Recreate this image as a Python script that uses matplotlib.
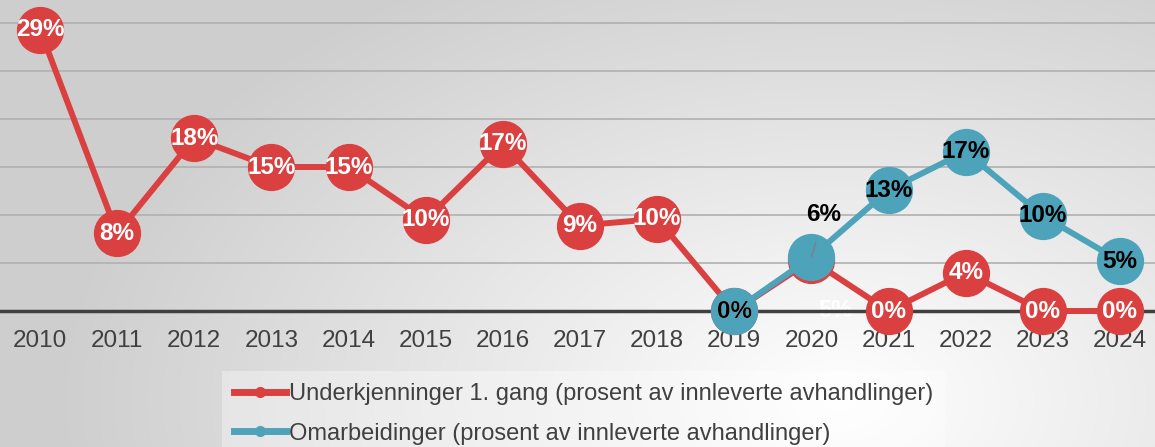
import numpy as np
import matplotlib.pyplot as plt
from matplotlib.lines import Line2D

# Data (percent of submitted theses)
years = ['2010', '2011', '2012', '2013', '2014', '2015', '2016', '2017',
         '2018', '2019', '2020', '2021', '2022', '2023', '2024']
underkjent = [29.3, 8.1, 18.0, 15.0, 15.0, 9.5, 17.4, 8.9, 9.6, 0.0, 5.3, 0.0, 4.0, 0.0, 0.0]
omarb_years = ['2019', '2020', '2021', '2022', '2023', '2024']
omarbeidet = [0.0, 5.6, 12.6, 16.6, 9.9, 5.2]

red = '#DA4040'
blue = '#4DA3BA'

plt.rcParams['font.family'] = ['Liberation Sans', 'DejaVu Sans']

W, H = 1155, 447
fig = plt.figure(figsize=(W / 100, H / 100), dpi=100)

# radial grey background
bg = fig.add_axes([0, 0, 1, 1], zorder=-10)
yy, xx = np.mgrid[0:H, 0:W]
r = np.sqrt((xx - 840) ** 2 + ((yy - 400) * 1.6) ** 2) / 780
shade = 1 - 0.19 * np.clip(r, 0, 1)
bg.imshow(np.dstack([shade] * 3), extent=[0, W, H, 0], aspect='auto')
bg.axis('off')

ax = fig.add_axes([0, (H - 311) / H, 1, 311 / H])
ax.set_facecolor('none')

x_all = np.arange(len(years))
x_om = np.array([years.index(y) for y in omarb_years])

ax.plot(x_all, underkjent, color=red, lw=4.3, marker='o', ms=33,
        mec=red, mfc=red, zorder=3, solid_joinstyle='round')
ax.plot(x_om, omarbeidet, color=blue, lw=4.3, marker='o', ms=33,
        mec=blue, mfc=blue, zorder=4, solid_joinstyle='round')

for xi, v in zip(x_all, underkjent):
    if years[xi] == '2020':
        ax.annotate(f'{round(v)}%', (xi, v), xytext=(17, -36), textcoords='offset points',
                    ha='center', va='center', color='white', fontsize=17,
                    fontweight='bold', zorder=2)
        continue
    ax.text(xi, v, f'{round(v)}%', ha='center', va='center', color='white',
            fontsize=17.5, fontweight='bold', zorder=5)

for xi, yr, v in zip(x_om, omarb_years, omarbeidet):
    if yr == '2020':
        ax.annotate(f'{round(v)}%', (xi, v), xytext=(9, 31), textcoords='offset points',
                    ha='center', va='center', color='black', fontsize=17.5,
                    fontweight='bold', zorder=6,
                    arrowprops=dict(arrowstyle='-', color='#808080', lw=1,
                                    shrinkA=10, shrinkB=0))
        continue
    ax.text(xi, v, f'{round(v)}%', ha='center', va='center', color='black',
            fontsize=17.5, fontweight='bold', zorder=6)

ax.set_xlim(-40 / 77.14, 14 + 35 / 77.14)
ax.set_ylim(0, 311 / 9.6)
ax.set_xticks(x_all)
ax.set_xticklabels(years, fontsize=17.5, color='#404040')
ax.set_yticks([5, 10, 15, 20, 25, 30])
ax.set_yticklabels([])
ax.tick_params(length=0, pad=14)
ax.grid(axis='y', color='#b0b0b0', lw=1.2)
ax.set_axisbelow(True)
for s in ['top', 'right', 'left']:
    ax.spines[s].set_visible(False)
ax.spines['bottom'].set_color('#404040')
ax.spines['bottom'].set_linewidth(2.5)
ax.spines['bottom'].set_zorder(2.5)
for a in ax.lines + ax.texts:
    a.set_clip_on(False)

handles = [
    Line2D([0], [0], color=red, lw=5, marker='o', ms=7,
           label='Underkjenninger 1. gang (prosent av innleverte avhandlinger)'),
    Line2D([0], [0], color=blue, lw=5, marker='o', ms=7,
           label='Omarbeidinger (prosent av innleverte avhandlinger)'),
]
leg = fig.legend(handles=handles, loc='upper left', bbox_to_anchor=(222 / W, 1 - 371 / H),
                 frameon=True, fontsize=17, handlelength=2.2, handletextpad=0.15,
                 labelspacing=0.75, borderpad=0.5, borderaxespad=0)
leg.get_frame().set_facecolor('white')
leg.get_frame().set_alpha(0.35)
leg.get_frame().set_edgecolor('none')
leg.get_frame().set_boxstyle('square', pad=0)
for t in leg.get_texts():
    t.set_color('#404040')

fig.savefig('out.png', dpi=100)
